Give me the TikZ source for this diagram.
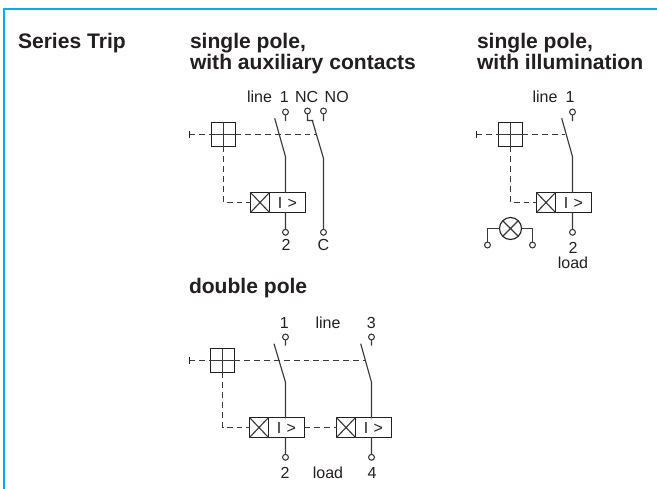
\documentclass[tikz,border=0pt]{standalone}
\usepackage{fontspec}
\setmainfont{Liberation Sans}
\definecolor{ink}{HTML}{231F20}
\definecolor{wire}{HTML}{3A3839}
\definecolor{frameblue}{HTML}{00AEEF}
\tikzset{
  x=0.75pt,y=-0.75pt,
  heading/.style={font=\bfseries\fontsize{15.8}{15.75}\selectfont,text=ink,anchor=base west,align=left,inner sep=0pt,outer sep=0pt},
  lbl/.style={font=\fontsize{12}{14}\selectfont,text=ink,anchor=base,inner sep=0pt,outer sep=0pt},
  wireline/.style={draw=wire,line width=0.85pt},
  mech/.style={draw=wire,line width=0.85pt,dash pattern=on 4.4pt off 3pt},
  terminal/.style={circle,draw=wire,line width=0.8pt,fill=white,minimum size=4.4pt,inner sep=0pt,outer sep=0pt},
  handle/.style={rectangle,draw=ink,line width=0.85pt,fill=white,minimum size=18pt,inner sep=0pt,outer sep=0pt},
  coilbox/.style={rectangle,draw=ink,line width=0.85pt,fill=white,minimum width=14.25pt,minimum height=15pt,inner sep=0pt,outer sep=0pt},
  relaybox/.style={rectangle,draw=ink,line width=0.85pt,fill=white,minimum width=27pt,minimum height=15pt,inner sep=0pt,outer sep=0pt,font=\fontsize{12}{14}\selectfont,text=ink},
  stopmark/.style={draw=ink,line width=0.85pt},
  frameline/.style={draw=frameblue,line width=1.5pt},
}
\newcommand{\handlebox}[2]{%
  \node[handle] (#1) at #2 {};
  \draw[wireline] (#1.north)--(#1.south) (#1.west)--(#1.east);
}
\newcommand{\tripbox}[3]{%
  \node[coilbox,anchor=west] (#1c) at (#2,#3) {};
  \node[relaybox,anchor=west] (#1r) at (#1c.east) {I\,\,>};
  \draw[wireline] (#1c.north west)--(#1c.south east) (#1c.north east)--(#1c.south west);
}
\newcommand{\stopat}[3]{%
  \coordinate (#1) at (#2,#3);
  \draw[stopmark] ([yshift=2.5pt]#1)--([yshift=-2.5pt]#1);
}
\begin{document}
\begin{tikzpicture}
\useasboundingbox (0,0) rectangle (657,489);
\fill[white] (0,0) rectangle (657,489);
\coordinate (ftl) at (3.5,8.5);
\coordinate (ftr) at (657,8.5);
\coordinate (fbl) at (3.5,489);
\draw[frameline] (ftr)--(ftl)--(fbl);

\node[heading] (title) at (18,48.5) {Series Trip};
\node[heading,anchor=south west] (h1) at (190,73.5) {single pole,\\with auxiliary contacts\vphantom{p}};
\node[heading,anchor=south west] (h2) at (477,73.5) {single pole,\\with illumination\vphantom{p}};
\node[heading] (h3) at (189,293.5) {double pole};

% ---------- diagram 1
\coordinate (Amech) at (316,134.5);
\stopat{Astop}{189.5}{134.5}
\coordinate (Aturn) at (223.5,202.5);
\handlebox{Ah}{(223.5,134.5)}
\tripbox{At}{250.5}{202.5}
\draw[mech] (Astop)--(Ah.west) (Ah.east)--(Amech);
\draw[mech] (Ah.south)--(Aturn)--(Atc.west);
\node[terminal] (A1) at (285.5,112) {};
\node[terminal] (ANC) at (307.5,111) {};
\node[terminal] (ANO) at (323.5,111) {};
\node[terminal] (A2) at (285.5,232.3) {};
\node[terminal] (AC) at (323.5,232.3) {};
\coordinate (A1s) at (285.5,121);
\coordinate (A1a) at (274.7,118.3);
\coordinate (A1b) at (285.5,156.7);
\coordinate (A1t) at (285.5,192.7);
\coordinate (A2t) at (285.5,212.3);
\coordinate (NCa) at (307.5,120.5);
\coordinate (NCb) at (313.3,120.5);
\coordinate (NOs) at (323.5,121);
\coordinate (Bla) at (312.3,120.5);
\coordinate (Blb) at (323.5,158.3);
\draw[wireline] (A1)--(A1s) (A1a)--(A1b)--(A1t) (A2t)--(A2);
\draw[wireline] (ANC)--(NCa)--(NCb) (ANO)--(NOs) (Bla)--(Blb)--(AC);
\node[lbl] (Al) at (259.5,102.7) {line};
\node[lbl] (Al1) at (284.3,102.7) {1};
\node[lbl] (AlNC) at (306.7,102.7) {NC};
\node[lbl] (AlNO) at (336.7,102.7) {NO};
\node[lbl] (Al2) at (286,250.5) {2};
\node[lbl] (AlC) at (323.5,250.5) {C};

% ---------- diagram 2
\coordinate (Bmech) at (565,134.5);
\stopat{Bstop}{476.5}{134.5}
\coordinate (Bturn) at (510.5,202.5);
\handlebox{Bh}{(510.5,134.5)}
\tripbox{Bt}{536.5}{202.5}
\draw[mech] (Bstop)--(Bh.west) (Bh.east)--(Bmech);
\draw[mech] (Bh.south)--(Bturn)--(Btc.west);
\node[terminal] (B1) at (572.5,112) {};
\node[terminal] (B2) at (572.5,232.3) {};
\coordinate (B1s) at (572.5,121);
\coordinate (B1a) at (561.7,118.3);
\coordinate (B1b) at (572.5,156.7);
\coordinate (B1t) at (572.5,192.7);
\coordinate (B2t) at (572.5,212.3);
\draw[wireline] (B1)--(B1s) (B1a)--(B1b)--(B1t) (B2t)--(B2);
\node[circle,draw=ink,line width=0.85pt,minimum size=16.5pt,inner sep=0pt,outer sep=0pt] (lamp) at (510.5,228.5) {};
\draw[wireline] (lamp.north west)--(lamp.south east) (lamp.north east)--(lamp.south west);
\node[terminal] (L1) at (487.5,245) {};
\node[terminal] (L2) at (532.5,245) {};
\draw[wireline] (lamp.west)-|(L1);
\draw[wireline] (lamp.east)-|(L2);
\node[lbl] (Bl) at (545,102.7) {line};
\node[lbl] (Bl1) at (570,102.7) {1};
\node[lbl] (Bl2) at (573,253.5) {2};
\node[lbl] (Blo) at (573,268.5) {load};

% ---------- diagram 3
\coordinate (Cmech) at (365,360.5);
\stopat{Cstop}{189.5}{360.5}
\coordinate (Cturn) at (222.5,427.5);
\handlebox{Ch}{(222.5,360.5)}
\tripbox{Ct}{249.5}{427.5}
\tripbox{Du}{336.5}{427.5}
\draw[mech] (Cstop)--(Ch.west) (Ch.east)--(Cmech);
\draw[mech] (Ch.south)--(Cturn)--(Ctc.west);
\draw[mech] (Ctr.east)--(Duc.west);
\node[terminal] (C1) at (285.5,337) {};
\node[terminal] (C2) at (285.5,457.3) {};
\node[terminal] (C3) at (371.5,337) {};
\node[terminal] (C4) at (371.5,457.3) {};
\coordinate (C1s) at (285.5,345.5);
\coordinate (C1a) at (274,343.7);
\coordinate (C1b) at (285.5,382.3);
\coordinate (C1t) at (285.5,418.3);
\coordinate (C2t) at (285.5,437.2);
\coordinate (C3s) at (371.5,345.5);
\coordinate (C3a) at (360.7,343.7);
\coordinate (C3b) at (371.5,382.3);
\coordinate (C3t) at (371.5,418.3);
\coordinate (C4t) at (371.5,437.2);
\draw[wireline] (C1)--(C1s) (C1a)--(C1b)--(C1t) (C2t)--(C2);
\draw[wireline] (C3)--(C3s) (C3a)--(C3b)--(C3t) (C4t)--(C4);
\node[lbl] (Cl1) at (284.3,328) {1};
\node[lbl] (Cl) at (328,328) {line};
\node[lbl] (Cl3) at (371.3,328) {3};
\node[lbl] (Cl2) at (285,478.7) {2};
\node[lbl] (Cll) at (328,478.7) {load};
\node[lbl] (Cl4) at (372,478.7) {4};
\end{tikzpicture}
\end{document}
